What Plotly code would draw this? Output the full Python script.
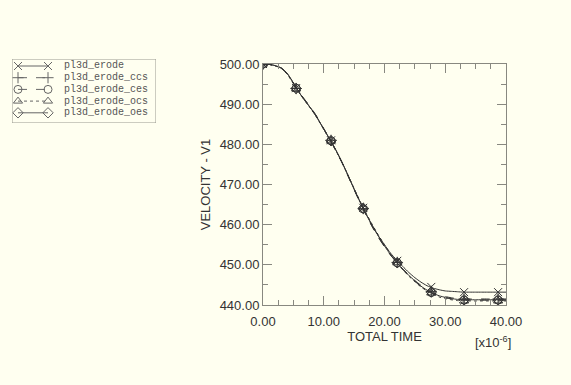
import plotly.graph_objects as go

# ---------------- data ----------------
series_names = ["pl3d_erode", "pl3d_erode_ccs", "pl3d_erode_ces", "pl3d_erode_ocs", "pl3d_erode_oes"]

t_line = [0, 1, 2, 3, 4, 5, 6, 7, 8, 9, 10, 11, 12, 13, 14, 15, 16, 17, 18, 19, 20,
          21, 22, 23, 24, 25, 26, 27, 28, 29, 30, 31, 32, 33, 34, 35, 36, 37, 38, 39, 40]

v_erode = [500.0, 499.9, 499.6, 499.0, 497.6, 495.3, 492.8, 490.7, 488.7, 486.4, 483.8,
           481.3, 478.6, 475.6, 472.3, 468.9, 465.6, 462.5, 459.7, 457.2, 455.0,
           452.9, 451.2, 449.6, 448.1, 446.8, 445.7, 444.8, 444.2, 443.8, 443.5,
           443.4, 443.3, 443.2, 443.2, 443.2, 443.2, 443.2, 443.2, 443.2, 443.2]
v_ccs = [500.0, 499.9, 499.6, 499.0, 497.5, 495.2, 492.8, 490.8, 488.8, 486.5, 483.9,
         481.3, 478.5, 475.5, 472.2, 468.8, 465.5, 462.4, 459.5, 456.9, 454.6,
         452.5, 450.7, 449.0, 447.5, 446.1, 444.9, 443.9, 443.1, 442.5, 442.1,
         441.8, 441.6, 441.5, 441.5, 441.5, 441.5, 441.5, 441.5, 441.5, 441.5]
v_ces = [500.0, 499.9, 499.6, 499.0, 497.6, 495.3, 492.9, 490.9, 488.9, 486.6, 483.9,
         481.2, 478.4, 475.4, 472.1, 468.7, 465.4, 462.3, 459.4, 456.8, 454.5,
         452.4, 450.6, 448.9, 447.3, 445.9, 444.6, 443.6, 442.8, 442.2, 441.8,
         441.5, 441.3, 441.2, 441.2, 441.2, 441.2, 441.2, 441.2, 441.2, 441.2]
v_ocs = [500.0, 499.9, 499.5, 498.9, 497.4, 495.1, 492.7, 490.6, 488.6, 486.3, 483.7,
         481.1, 478.4, 475.5, 472.3, 469.0, 465.8, 462.8, 460.0, 457.4, 455.0,
         452.7, 450.7, 448.8, 447.2, 445.8, 444.5, 443.5, 442.7, 442.0, 441.6,
         441.3, 441.1, 441.0, 441.0, 441.0, 441.0, 441.0, 441.0, 441.0, 441.0]
v_oes = [500.0, 499.9, 499.6, 499.0, 497.6, 495.3, 492.8, 490.7, 488.7, 486.4, 483.8,
         481.2, 478.5, 475.5, 472.2, 468.8, 465.6, 462.6, 459.8, 457.1, 454.7,
         452.5, 450.6, 448.9, 447.4, 446.0, 444.7, 443.7, 442.9, 442.3, 441.9,
         441.6, 441.4, 441.3, 441.3, 441.3, 441.3, 441.3, 441.3, 441.3, 441.3]

t_mark = [0.0, 5.45, 11.2, 16.5, 22.1, 27.7, 33.1, 38.7]
m_erode = [500.0, 494.0, 481.0, 464.2, 451.0, 444.5, 443.2, 443.2]
m_ccs = [500.0, 493.9, 481.0, 464.0, 450.6, 443.4, 441.5, 441.5]
m_ces = [500.0, 494.0, 480.9, 463.9, 450.5, 443.1, 441.2, 441.2]
m_ocs = [500.0, 493.8, 480.8, 464.2, 450.5, 443.0, 441.0, 441.0]
m_oes = [500.0, 493.9, 480.9, 464.1, 450.5, 443.2, 441.3, 441.3]

x_ticks = [0, 10, 20, 30, 40]
x_tick_labels = ["0.00", "10.00", "20.00", "30.00", "40.00"]
y_ticks = [440, 450, 460, 470, 480, 490, 500]
y_tick_labels = ["440.00", "450.00", "460.00", "470.00", "480.00", "490.00", "500.00"]

# ---------------- style ----------------
W, H = 571, 385
BG = "#FFFFF0"
INK = "#333333"
AX = "#888880"
line_dash = ["solid", "dash", "dash", "dot", "solid"]
symbols = ["x-thin-open", "cross-thin-open", "circle-open", "triangle-up-open", "diamond-open"]

lines = [v_erode, v_ccs, v_ces, v_ocs, v_oes]
marks = [m_erode, m_ccs, m_ces, m_ocs, m_oes]

fig = go.Figure()
for name, v, m, d, s in zip(series_names, lines, marks, line_dash, symbols):
    fig.add_trace(go.Scatter(x=t_line, y=v, mode="lines",
                             line=dict(color=INK, width=1, dash=d, shape="spline", smoothing=0.6),
                             showlegend=False, hoverinfo="skip"))
    fig.add_trace(go.Scatter(x=t_mark, y=m, mode="markers",
                             marker=dict(symbol=s, size=8, color=INK, line=dict(color=INK, width=1)),
                             showlegend=False, name=name))

# manual legend on its own small axes (pixel units)
LX0, LX1, LY0, LY1 = 12, 156, 59, 123
row0, row_step = 66, 11.7
for i, (name, d, s) in enumerate(zip(series_names, line_dash, symbols)):
    yy = row0 + i * row_step
    fig.add_trace(go.Scatter(x=[18, 48], y=[yy, yy], mode="lines+markers", xaxis="x2", yaxis="y2",
                             line=dict(color="#666666", width=1, dash=d),
                             marker=dict(symbol=s, size=8, color="#666666", line=dict(color="#666666", width=1)),
                             showlegend=False, hoverinfo="skip", cliponaxis=False))
    fig.add_annotation(x=62, y=yy, xref="x2", yref="y2", text=name, showarrow=False, xanchor="left",
                       yanchor="middle", font=dict(family="Liberation Mono", size=10, color="#555555"))

fig.add_shape(type="rect", xref="x2", yref="y2", x0=LX0, x1=LX1, y0=LY0, y1=LY1,
              line=dict(color="#999990", width=1))

fig.add_annotation(x=493 / W, y=1 - 342 / H, xref="paper", yref="paper", text="[x10<sup>-6</sup>]",
                   xanchor="center", yanchor="middle",
                   showarrow=False, font=dict(family="Liberation Sans", size=13, color=INK))

px_l, px_r, px_t, px_b = 263, 506, 64, 305
fig.update_layout(
    width=W, height=H,
    paper_bgcolor=BG, plot_bgcolor=BG,
    margin=dict(l=0, r=0, t=0, b=0, autoexpand=False),
    font=dict(family="Liberation Sans", size=13, color=INK),
    xaxis=dict(domain=[px_l / W, px_r / W], range=[0, 40], tickvals=x_ticks, ticktext=x_tick_labels,
               automargin=False, ticklabelstandoff=4,
               ticks="inside", ticklen=9, tickcolor=AX, showgrid=False, zeroline=False,
               showline=True, linecolor=AX, linewidth=1, mirror="ticks",
               minor=dict(dtick=2.5, ticks="inside", ticklen=5, tickcolor=AX, showgrid=False),
               title=dict(text="TOTAL TIME", standoff=2, font=dict(size=13))),
    yaxis=dict(domain=[(H - px_b) / H, (H - px_t) / H], range=[440, 500], tickvals=y_ticks,
               automargin=False,
               ticktext=y_tick_labels, ticks="inside", ticklen=9, tickcolor=AX, showgrid=False,
               zeroline=False, showline=True, linecolor=AX, linewidth=1, mirror="ticks",
               minor=dict(dtick=5, ticks="inside", ticklen=5, tickcolor=AX, showgrid=False),
               title=dict(text="VELOCITY - V1", standoff=6, font=dict(size=13))),
    xaxis2=dict(domain=[LX0 / W, LX1 / W], range=[LX0, LX1], visible=False, anchor="y2", automargin=False),
    yaxis2=dict(domain=[1 - LY1 / H, 1 - LY0 / H], range=[LY1, LY0], visible=False, anchor="x2", automargin=False),
)

fig.write_html("out.html", config={"displayModeBar": False},
               post_script="document.body.style.margin='0';document.body.style.background='#FFFFF0';")
